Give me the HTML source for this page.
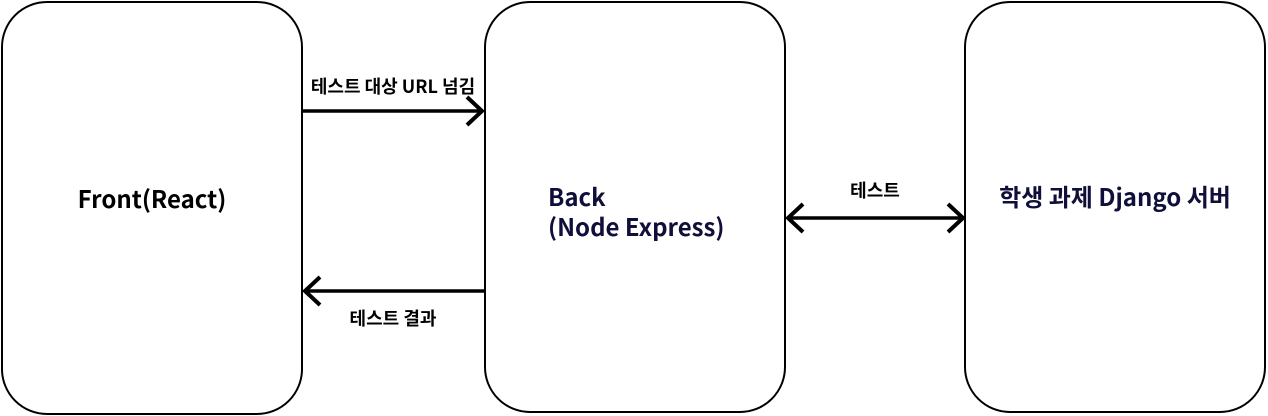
<!DOCTYPE html>
<html><head><meta charset="utf-8"><style>
html,body{margin:0;padding:0;background:#fff;}
svg{display:block;}
text{font-family:"Noto Sans CJK KR","Liberation Sans",sans-serif;font-weight:bold;}
</style></head><body>
<svg width="1268" height="416" viewBox="0 0 1268 416" xmlns="http://www.w3.org/2000/svg">
<g fill="#fff" stroke="#000" stroke-width="2">
<rect x="2" y="2" width="300" height="412" rx="45"/>
<rect x="485" y="2" width="300" height="410" rx="45"/>
<rect x="965" y="2" width="300" height="410" rx="45"/>
</g>
<g stroke="#000" stroke-width="3.5" fill="none">
<line x1="302" y1="111" x2="483" y2="111"/>
<polyline points="467,97 482,111 467,125" stroke-width="4"/>
<line x1="305" y1="291" x2="485" y2="291"/>
<polyline points="320,277 305,291 320,305" stroke-width="4"/>
<line x1="788" y1="218" x2="963" y2="218"/>
<polyline points="803,204 788,218 803,232" stroke-width="4"/>
<polyline points="948,204 963,218 948,232" stroke-width="4"/>
</g>
<g>
<text x="393" y="93" font-size="18" text-anchor="middle">테스트 대상 URL 넘김</text>
<text x="393" y="325" font-size="18" text-anchor="middle">테스트 결과</text>
<text x="875" y="197" font-size="18" text-anchor="middle">테스트</text>
<text x="152" y="208" font-size="24" text-anchor="middle">Front(React)</text>
<text x="548" y="206" font-size="24" fill="#0f0f3a">Back</text>
<text x="548" y="236" font-size="24" fill="#0f0f3a">(Node Express)</text>
<text x="1115" y="206" font-size="24" text-anchor="middle" fill="#0f0f3a">학생 과제 Django 서버</text>
</g>
</svg>
</body></html>
